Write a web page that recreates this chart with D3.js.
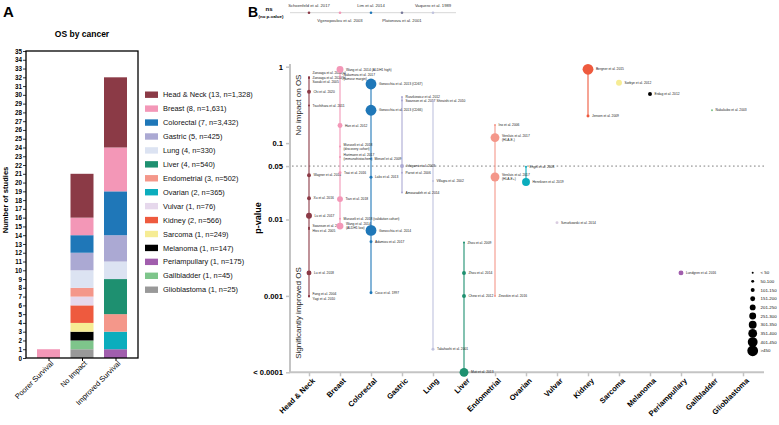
<!DOCTYPE html>
<html><head><meta charset="utf-8">
<script src="https://cdn.jsdelivr.net/npm/d3@7"></script>
<style>body{margin:0;background:#fff}svg{display:block;color:#000}text{font-family:"Liberation Sans",Arial,sans-serif}</style>
</head><body><svg id="c" width="779" height="425"></svg>
<script>
// ---------- DATA ----------
const cancers = ["Head & Neck","Breast","Colorectal","Gastric","Lung","Liver","Endometrial","Ovarian","Vulvar","Kidney","Sarcoma","Melanoma","Periampullary","Gallbladder","Glioblastoma"];
const studyCounts = [13,8,7,5,4,4,3,2,1,2,1,1,1,1,1];
const patientCounts = ["1,328","1,631","3,432","425","330","540","502","365","76","566","249","147","175","45","25"];
const cancerColors = ["#8B3A46","#F397B7","#1F77B8","#ABA9D3","#DCE3F2","#1E9070","#F4978A","#0BADBD","#E6D8EC","#EE5A3E","#F6EC94","#000000","#A15EAD","#7EC58B","#999999"];
const outcomes = ["Poorer Survival","No Impact","Improved Survival"];
const poorerSurvival = [0,1,0,0,0,0,0,0,0,0,0,0,0,0,0];
const noImpact       = [5,2,2,2,2,0,1,0,1,2,1,1,0,1,1];
const improvedSurv   = [8,5,5,3,2,4,2,2,0,0,0,0,1,0,0];
const stackOrder = ["Glioblastoma","Gallbladder","Periampullary","Melanoma","Sarcoma","Kidney","Vulvar","Ovarian","Endometrial","Liver","Lung","Gastric","Colorectal","Breast","Head & Neck"];
const countTicks = d3.range(0,36);

// panel B : [study label, p-value, patients]
const headNeckStudies = [
 ["Zanoaga et al. 2020(a)",0.73,40],["Zanoaga et al. 2020(b)",0.72,40],["Sasaki et al. 2005",0.71,40],
 ["Chi et al. 2020",0.47,110],["Tsuchihara et al. 2011",0.31,40],["Wagner et al. 2015",0.038,110],
 ["Xu et al. 2016",0.019,110],["Lu et al. 2017",0.0112,220],["Swanson et al. 2017",0.0078,40],
 ["Hiss et al. 2005",0.0075,40],["Lu et al. 2018",0.002,170],["Fang et al. 2004",0.001,40],["Yagi et al. 2010",0.00098,40]];
const breastStudies = [
 ["Wang et al. 2014 (ALDH1 high)",0.92,260],["Nakamura et al. 2017\n(tumour margin)",0.74,30],
 ["Han et al. 2012",0.17,180],["Muraseli et al. 2018\n(discovery cohort)",0.09,30],
 ["Hartmann et al. 2017\n(immunohistochem)",0.066,30],["Tsai et al. 2016",0.041,60],
 ["Tian et al. 2018",0.0185,230],["Muraseli et al. 2018 (validation cohort)",0.0102,30],
 ["Wang et al. 2014\n(ALDH1 low)",0.0082,300]];
const colorectalStudies = [
 ["Gonocchia et al. 2013 (CD67)",0.594,600],["Gonocchia et al. 2013 (CD66)",0.269,600],
 ["Menzel et al. 2009",0.0625,40],["Laks et al. 2013",0.0357,60],["Gonocchia et al. 2014",0.0072,700],
 ["Adamiou et al. 2017",0.0051,60],["Coco et al. 1997",0.0011,90]];
const gastricStudies = [
 ["Ruszkiewicz et al. 2012",0.40,30],["Swanson et al. 2017",0.36,30],["Ishigami et al. 2003",0.05,140],
 ["Parrot et al. 2006",0.041,30],["Amouzadeh et al. 2014",0.0225,30]];
const lungStudies = [
 ["Shiraishi et al. 2010",0.356,30],["Villagra et al. 2002",0.032,30],["Takahashi et al. 2001",0.0002,60]];
const liverStudies = [
 ["Zhou et al. 2009",0.005,30],["Zhou et al. 2014",0.002,150],["Chew et al. 2012",0.001,150],["Muti et al. 2013",0.0001,360]];
const endometrialStudies = [
 ["Ino et al. 2006",0.173,30],["Versluis et al. 2017\n(HLA-E-)",0.118,400],
 ["Versluis et al. 2017\n(HLA-E+)",0.036,400],["Zinovkin et al. 2016",0.001,30]];
const ovarianStudies = [["Engel et al. 2008",0.049,40],["Henriksen et al. 2019",0.031,320]];
const vulvarStudies = [["Sznurkowski et al. 2014",0.0091,76]];
const kidneyStudies = [["Bergner et al. 2015",0.925,500],["Jensen et al. 2009",0.226,66]];
const sarcomaStudies = [["Sorbye et al. 2012",0.617,249]];
const melanomaStudies = [["Erdag et al. 2012",0.44,147]];
const periampullaryStudies = [["Lundgren et al. 2016",0.002,175]];
const gallbladderStudies = [["Nakakubo et al. 2003",0.27,45]];
const glioblastomaStudies = [];
const nsStudies = [["Head & Neck","Schoenfeld et al. 2017"],["Breast","Vgenopoulou et al. 2003"],["Colorectal","Lim et al. 2014"],["Gastric","Platonova et al. 2001"],["Lung","Vaquero et al. 1989"]];
const pTicks = [1,0.1,0.05,0.01,0.001,0.0001];
const pTickLabels = ["1","0.1","0.05","0.01","0.001","< 0.0001"];
const sizeBins = ["< 50","50-100","101-150","151-200","201-250","251-300","301-350","351-400","401-450",">450"];

// ---------- DRAW ----------
const svg = d3.select("#c");
const colorOf = d3.scaleOrdinal(cancers, cancerColors);
const bColor = c => c==="Lung" ? "#BFC2DE" : c==="Vulvar" ? "#D9CCE0" : colorOf(c);

// ===== Panel A =====
svg.append("text").attr("x",3).attr("y",17).attr("font-size",15).attr("font-weight","bold").attr("fill","#000").text("A");
svg.append("text").attr("x",82).attr("y",37).attr("text-anchor","middle").attr("font-size",8.5).attr("font-weight","bold").attr("fill","#000").text("OS by cancer");
const yA = d3.scaleLinear().domain([0,35]).range([358,51]);
const xA = d3.scalePoint().domain(outcomes).range([48.5,115.5]);
const rows = outcomes.map((o,i)=>{
  const src=[poorerSurvival,noImpact,improvedSurv][i]; const r={outcome:o};
  cancers.forEach((c,j)=>r[c]=src[j]); return r;});
const series = d3.stack().keys(stackOrder)(rows);
const gA = svg.append("g");
series.forEach(s=>{
  gA.selectAll(null).data(s.filter(d=>d[1]>d[0])).join("rect")
   .attr("x",d=>xA(d.data.outcome)-11.5).attr("width",23)
   .attr("y",d=>yA(d[1])).attr("height",d=>yA(d[0])-yA(d[1]))
   .attr("fill",colorOf(s.key));
});
svg.append("rect").attr("x",26).attr("y",51).attr("width",112).attr("height",307).attr("fill","none").attr("stroke","#000").attr("stroke-width",1.3);
const axA = svg.append("g").attr("transform","translate(26,0)").call(d3.axisLeft(yA).tickValues(countTicks).tickSize(3).tickFormat(d3.format("d")));
axA.select(".domain").remove();
axA.selectAll("text").attr("font-size",6.3).attr("font-weight","bold").attr("x",-4).attr("fill","#000").attr("font-family","Liberation Sans, Arial");
axA.selectAll("line").attr("stroke","#000").attr("stroke-width",0.8);
const axAx = svg.append("g").attr("transform","translate(0,358)").call(d3.axisBottom(xA).tickSize(3));
axAx.select(".domain").remove();
axAx.selectAll("line").attr("stroke","#000");
axAx.selectAll("text").attr("font-size",7.4).attr("fill","#000").attr("font-family","Liberation Sans, Arial")
  .attr("text-anchor","end").attr("transform","translate(3,4) rotate(-45)").attr("dy","0.35em").attr("x",0).attr("y",0);
svg.append("text").attr("transform","translate(8,200) rotate(-90)").attr("text-anchor","middle").attr("font-size",7.6).attr("font-weight","bold").attr("fill","#000").text("Number of studies");
const lg = svg.append("g");
cancers.forEach((c,i)=>{
  const y = 94.7 + i*13.93;
  lg.append("rect").attr("x",145).attr("y",y-3.2).attr("width",13).attr("height",6.4).attr("fill",colorOf(c));
  lg.append("text").attr("x",163).attr("y",y).attr("dy","0.35em").attr("font-size",7.4).attr("fill","#111")
    .text(`${c} (${studyCounts[i]}, n=${patientCounts[i]})`);
});

// ===== Panel B =====
svg.append("text").attr("x",248).attr("y",17).attr("font-size",14).attr("font-weight","bold").attr("fill","#000").text("B");
const xB = d3.scalePoint().domain(cancers).range([309,743]);
const yB = d3.scaleLog().domain([0.0001,1]).range([372.3,66.7]);
const binOf = n => n<50 ? 0 : Math.min(9, Math.ceil(n/50)-1);
const rB = d3.scaleLinear().domain([0,9]).range([1,5.4]);

svg.append("text").attr("x",269).attr("y",11).attr("text-anchor","middle").attr("font-size",6).attr("font-weight","bold").attr("fill","#000").text("ns");
svg.append("text").attr("x",271).attr("y",18).attr("text-anchor","middle").attr("font-size",4.4).attr("font-weight","bold").attr("fill","#000").text("(no p-value)");
svg.append("line").attr("x1",290).attr("x2",456).attr("y1",12.7).attr("y2",12.7).attr("stroke","#ccc").attr("stroke-width",0.8);
nsStudies.forEach((s,i)=>{
  const x = xB(s[0]);
  svg.append("circle").attr("cx",x).attr("cy",12.7).attr("r",1.3).attr("fill", s[0]==="Gastric" ? "#77789A" : bColor(s[0]));
  svg.append("text").attr("x",x).attr("y", i%2===0 ? 7 : 21.5).attr("text-anchor","middle").attr("font-size",4.2).attr("fill","#333").text(s[1]);
});

const gy = svg.append("g").attr("transform","translate(290,0)").call(d3.axisLeft(yB).tickValues(pTicks).tickSize(4).tickFormat((d,i)=>pTickLabels[i]));
gy.select(".domain").attr("d","M0,64V372.3").attr("stroke","#c4c4c4").attr("stroke-width",2);
gy.selectAll("line").attr("stroke","#c4c4c4").attr("stroke-width",1.5);
gy.selectAll("text").attr("font-size",7.6).attr("font-weight","bold").attr("x",-7).attr("fill","#000").attr("font-family","Liberation Sans, Arial");
const gx = svg.append("g").attr("transform","translate(0,372.3)").call(d3.axisBottom(xB).tickSize(4));
gx.select(".domain").attr("d","M290,0H764").attr("stroke","#c4c4c4").attr("stroke-width",2);
gx.selectAll("line").attr("stroke","#c4c4c4").attr("stroke-width",1.5);
gx.selectAll("text").attr("font-size",7.6).attr("font-weight","bold").attr("fill","#000").attr("font-family","Liberation Sans, Arial")
  .attr("text-anchor","end").attr("transform","translate(4,7) rotate(-45)").attr("dy","0.35em").attr("x",0).attr("y",0);
svg.append("text").attr("transform","translate(261,218) rotate(-90)").attr("text-anchor","middle").attr("font-size",9).attr("font-weight","bold").attr("fill","#000").text("p-value");
svg.append("text").attr("transform","translate(301,105) rotate(-90)").attr("text-anchor","middle").attr("font-size",8).attr("fill","#222").text("No impact on OS");
svg.append("text").attr("transform","translate(301,313) rotate(-90)").attr("text-anchor","middle").attr("font-size",8).attr("fill","#222").text("Significantly improved OS");
svg.append("line").attr("x1",292).attr("x2",766).attr("y1",yB(0.05)).attr("y2",yB(0.05)).attr("stroke","#b5b5b5").attr("stroke-width",1.6).attr("stroke-dasharray","1.6,2.6");

const byCancer = [headNeckStudies,breastStudies,colorectalStudies,gastricStudies,lungStudies,liverStudies,endometrialStudies,ovarianStudies,vulvarStudies,kidneyStudies,sarcomaStudies,melanomaStudies,periampullaryStudies,gallbladderStudies,glioblastomaStudies];
const gB = svg.append("g");
byCancer.forEach((arr,ci)=>{
  const c = cancers[ci]; if(arr.length<2) return;
  const x = xB(c), col = bColor(c);
  const ext = d3.extent(arr, d=>d[1]);
  gB.append("line").attr("x1",x).attr("x2",x).attr("y1",yB(ext[1])).attr("y2",yB(ext[0])).attr("stroke",col).attr("stroke-width",1.1);
});
byCancer.forEach((arr,ci)=>{
  const c = cancers[ci]; if(!arr.length) return;
  const x = xB(c), col = bColor(c);
  const pts = arr.map(d=>({label:d[0], cy:yB(d[1]), r:rB(binOf(d[2])), lines:d[0].split("\n")}));
  pts.slice().sort((a,b)=>b.r-a.r).forEach(p=>gB.append("circle").attr("cx",x).attr("cy",p.cy).attr("r",p.r).attr("fill",col));
  pts.forEach(p=>{p.ly=p.cy; p.h=p.lines.length*3.9;});
  const sorted = pts.slice().sort((a,b)=>a.ly-b.ly);
  for(let it=0; it<60; it++){
    for(let i=1;i<sorted.length;i++){
      const a=sorted[i-1], b=sorted[i], need=(a.h+b.h)/2+0.6, gap=b.ly-a.ly;
      if(gap<need){const m=(need-gap)/2; a.ly-=m; b.ly+=m;}
    }
  }
  pts.forEach(p=>{
    const t = gB.append("text").attr("x",x+p.r+2.5).attr("font-size",3.3).attr("fill","#222");
    const y0 = p.ly - (p.lines.length-1)*3.9/2;
    p.lines.forEach((ln,k)=>t.append("tspan").attr("x",x+p.r+2.5).attr("y",y0+k*3.9).attr("dy","0.35em").text(ln));
  });
});

sizeBins.forEach((b,i)=>{
  const y = 272.7 + i*8.67;
  svg.append("circle").attr("cx",752.7).attr("cy",y).attr("r",rB(i)).attr("fill","#000");
  svg.append("text").attr("x",760.5).attr("y",y).attr("dy","0.35em").attr("font-size",4.4).attr("fill","#111").text(b);
});
</script></body></html>
